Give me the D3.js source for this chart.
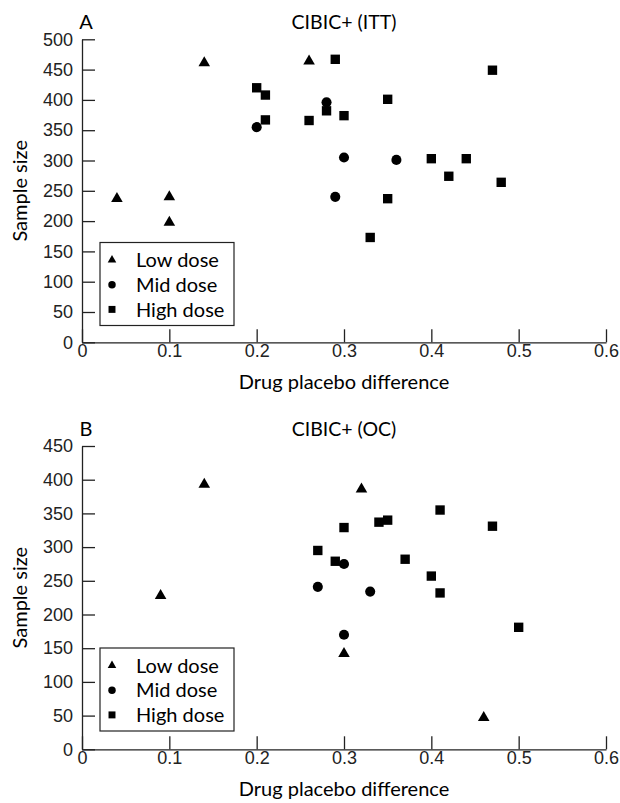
<!DOCTYPE html>
<html>
<head>
<meta charset="utf-8">
<script src="https://d3js.org/d3.v7.min.js"></script>
<style>
  body { margin: 0; background: #fff; }
  svg { display: block; font-family: Lato, "Open Sans", sans-serif; }
  .axis path, .axis line { stroke: #222; stroke-width: 1.3px; }
  .axis text { font-size: 18px; fill: #222; }
</style>
</head>
<body>
<script>
// panel A: CIBIC+ (ITT)
var lowA  = [[0.04, 237], [0.10, 240], [0.10, 198], [0.14, 461], [0.26, 464]];
var midA  = [[0.20, 355], [0.28, 396], [0.29, 240], [0.30, 305], [0.36, 301]];
var highA = [[0.20, 420], [0.21, 408], [0.21, 367], [0.26, 366], [0.28, 382], [0.29, 467],
             [0.30, 374], [0.33, 173], [0.35, 401], [0.35, 237], [0.40, 303], [0.42, 274],
             [0.44, 303], [0.47, 449], [0.48, 264]];

// panel B: CIBIC+ (OC)
var lowB  = [[0.09, 228], [0.14, 393], [0.30, 142], [0.32, 386], [0.46, 47]];
var midB  = [[0.27, 241], [0.30, 275], [0.30, 170], [0.33, 234]];
var highB = [[0.27, 295], [0.29, 279], [0.30, 329], [0.34, 337], [0.35, 340], [0.37, 282],
             [0.40, 257], [0.41, 355], [0.41, 232], [0.47, 331], [0.50, 181]];

var xTicks = [0, 0.1, 0.2, 0.3, 0.4, 0.5, 0.6];
var yTicksA = [0, 50, 100, 150, 200, 250, 300, 350, 400, 450, 500];
var yTicksB = [0, 50, 100, 150, 200, 250, 300, 350, 400, 450];
var legendLabels = ["Low dose", "Mid dose", "High dose"];

var W = 620, H = 803;
var svg = d3.select("body").append("svg").attr("width", W).attr("height", H);

var shapes = [d3.symbolTriangle, d3.symbolCircle, d3.symbolSquare];
var sizes = [58, 80, 88];

function panel(opts) {
  var g = svg.append("g");
  var x = d3.scaleLinear().domain([0, 0.6]).range([82, 606]);
  var y = d3.scaleLinear().domain([0, opts.ymax]).range([opts.bottom, opts.top]);

  g.append("g").attr("class", "axis")
    .attr("transform", "translate(0," + opts.bottom + ")")
    .call(d3.axisBottom(x).tickValues(xTicks).tickSizeInner(-13).tickSizeOuter(0).tickPadding(2)
      .tickFormat(function(d) { return d === 0 ? "0" : d3.format(".1f")(d); }));

  g.append("g").attr("class", "axis")
    .attr("transform", "translate(82,0)")
    .call(d3.axisLeft(y).tickValues(opts.yTicks).tickSizeInner(-13).tickSizeOuter(0).tickPadding(9));

  // markers
  opts.series.forEach(function(s, i) {
    g.selectAll(null).data(s).enter().append("path")
      .attr("d", d3.symbol().type(shapes[i]).size(sizes[i]))
      .attr("transform", function(d) { return "translate(" + x(d[0]) + "," + y(d[1]) + ")"; })
      .attr("fill", "#000");
  });

  // titles
  g.append("text").attr("x", 86).attr("y", opts.top - 10)
    .style("font-size", "20px").attr("text-anchor", "middle").text(opts.letter);
  g.append("text").attr("x", 344).attr("y", opts.top - 10)
    .style("font-size", "19.5px").attr("text-anchor", "middle").text(opts.title);

  // axis labels
  g.append("text").attr("x", 344).attr("y", opts.bottom + 47)
    .style("font-size", "20px").attr("text-anchor", "middle").text("Drug placebo difference");
  g.append("text")
    .attr("transform", "translate(27," + ((opts.top + opts.bottom) / 2) + ") rotate(-90)")
    .style("font-size", "20px").attr("text-anchor", "middle").text("Sample size");

  // legend
  var lg = g.append("g").attr("transform", "translate(100," + opts.legendTop + ")");
  lg.append("rect").attr("width", 134).attr("height", 83)
    .attr("fill", "#fff").attr("stroke", "#222").attr("stroke-width", 1.2);
  legendLabels.forEach(function(l, i) {
    var cy = 17.5 + i * 24.7;
    lg.append("path").attr("d", d3.symbol().type(shapes[i]).size(sizes[i] * 0.55))
      .attr("transform", "translate(12," + cy + ")").attr("fill", "#000");
    lg.append("text").attr("x", 36).attr("y", cy).attr("dy", "0.36em")
      .style("font-size", "20px").text(l);
  });
}

panel({ letter: "A", title: "CIBIC+ (ITT)", ymax: 500, top: 39.3, bottom: 342.3,
        yTicks: yTicksA, series: [lowA, midA, highA], legendTop: 242.5 });
panel({ letter: "B", title: "CIBIC+ (OC)", ymax: 450, top: 446, bottom: 749.3,
        yTicks: yTicksB, series: [lowB, midB, highB], legendTop: 648 });
</script>
</body>
</html>
